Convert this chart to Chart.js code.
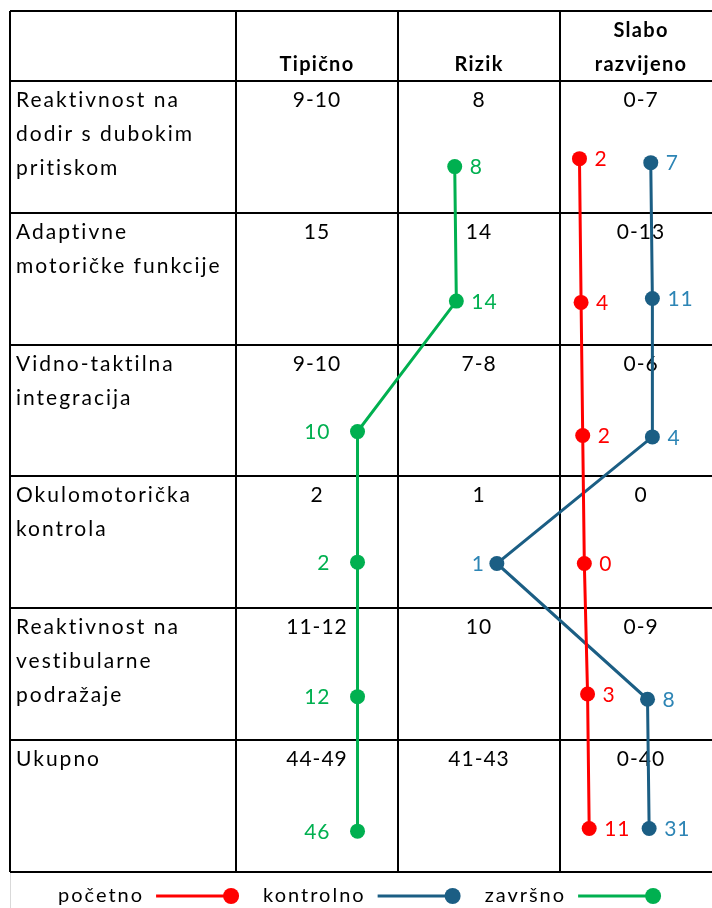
<!DOCTYPE html>
<html>
<head>
<meta charset="utf-8">
<script src="https://cdn.jsdelivr.net/npm/chart.js@4.4.1/dist/chart.umd.min.js"></script>
<style>
  html, body { margin: 0; padding: 0; background: #fff; }
  #wrap { width: 712px; height: 908px; }
</style>
</head>
<body>
<div id="wrap"><canvas id="grafico"></canvas></div>
<script>
// ==================== tablica ====================
const categories = [
  ["Reaktivnost na", "dodir s dubokim", "pritiskom"],
  ["Adaptivne", "motoričke funkcije"],
  ["Vidno-taktilna", "integracija"],
  ["Okulomotorička", "kontrola"],
  ["Reaktivnost na", "vestibularne", "podražaje"],
  ["Ukupno"],
];
const headers = [["Tipično"], ["Rizik"], ["Slabo", "razvijeno"]];
const normTipicno = ["9-10", "15", "9-10", "2", "11-12", "44-49"];
const normRizik = ["8", "14", "7-8", "1", "10", "41-43"];
const normSlabo = ["0-7", "0-13", "0-6", "0", "0-9", "0-40"];

// ==================== rezultati ====================
const pocetno = [2, 4, 2, 0, 3, 11];
const kontrolno = [7, 11, 4, 1, 8, 31];
const zavrsno = [8, 14, 10, 2, 12, 46];

// where the points sit: column units (1 Tipično, 2 Rizik, 3 Slabo) and row units (0 = first row top)
const pocetnoCol = [3.12, 3.13, 3.14, 3.15, 3.17, 3.18];
const kontrolnoCol = [3.56, 3.57, 3.57, 2.61, 3.54, 3.55];
const zavrsnoCol = [2.35, 2.36, 1.75, 1.75, 1.75, 1.75];
const pocetnoRow = [0.59, 1.68, 2.69, 3.66, 4.65, 5.67];
const kontrolnoRow = [0.62, 1.65, 2.70, 3.66, 4.69, 5.67];
const zavrsnoRow = [0.65, 1.67, 2.66, 3.65, 4.67, 5.69];

const FONT = "Lato, 'Open Sans', sans-serif";

function pts(cols, rows, vals) {
  return cols.map((c, i) => ({ x: c, y: rows[i], v: vals[i] }));
}

const tablePlugin = {
  id: "tablica",
  beforeDatasetsDraw(chart) {
    const ctx = chart.ctx;
    const xs = chart.scales.x, ys = chart.scales.y;
    const left = chart.chartArea.left, top = chart.chartArea.top, bottom = chart.chartArea.bottom;
    const right = chart.width;
    ctx.save();
    ctx.strokeStyle = "#000";
    ctx.lineWidth = 2;
    // horizontal lines
    [ys.min, 0, 1, 2, 3, 4, 5, 6].forEach((r) => {
      const y = Math.round(ys.getPixelForValue(r));
      ctx.beginPath(); ctx.moveTo(left, y); ctx.lineTo(right, y); ctx.stroke();
    });
    // vertical lines
    [xs.min, 1, 2, 3].forEach((c) => {
      const x = Math.round(xs.getPixelForValue(c));
      ctx.beginPath(); ctx.moveTo(x, top); ctx.lineTo(x, bottom); ctx.stroke();
    });

    ctx.fillStyle = "#000";
    ctx.textBaseline = "alphabetic";
    // header
    ctx.font = "bold 20px " + FONT;
    ctx.letterSpacing = "1.3px";
    ctx.textAlign = "center";
    headers.forEach((h, j) => {
      const cx = xs.getPixelForValue(j + 1.5);
      const base = ys.getPixelForValue(0) - 10;
      h.forEach((line, k) => {
        ctx.fillText(line, cx, base - (h.length - 1 - k) * 34);
      });
    });
    // body
    ctx.font = "21px " + FONT;
    categories.forEach((cat, r) => {
      const y0 = ys.getPixelForValue(r) + 26;
      ctx.letterSpacing = "2px";
      ctx.textAlign = "left";
      cat.forEach((line, k) => ctx.fillText(line, left + 6, y0 + k * 34));
      ctx.letterSpacing = "1px";
      ctx.textAlign = "center";
      [normTipicno, normRizik, normSlabo].forEach((col, j) => {
        ctx.fillText(col[r], xs.getPixelForValue(j + 1.5), y0);
      });
    });
    ctx.restore();
  },
  afterDatasetsDraw(chart) {
    const ctx = chart.ctx;
    ctx.save();
    ctx.font = "21px " + FONT;
    ctx.letterSpacing = "1px";
    ctx.textBaseline = "middle";
    chart.data.datasets.forEach((ds, i) => {
      const meta = chart.getDatasetMeta(i);
      meta.data.forEach((p, k) => {
        const left = ds.labelLeft && ds.labelLeft[k];
        ctx.fillStyle = ds.labelColor;
        ctx.textAlign = left ? "right" : "left";
        ctx.fillText(String(ds.data[k].v), left ? p.x - ds.labelGapLeft : p.x + 15, p.y + 1);
      });
    });
    ctx.restore();
  },
  afterDraw(chart) {
    const ctx = chart.ctx;
    const y = 896;
    ctx.save();
    ctx.strokeStyle = "#d9d9d9";
    ctx.lineWidth = 1;
    ctx.beginPath(); ctx.moveTo(10.5, chart.chartArea.bottom + 1); ctx.lineTo(10.5, chart.height); ctx.stroke();
    ctx.font = "20px " + FONT;
    ctx.letterSpacing = "2px";
    ctx.textBaseline = "middle";
    ctx.textAlign = "left";
    let x = 58;
    chart.data.datasets.forEach((ds) => {
      ctx.fillStyle = "#000";
      ctx.fillText(ds.label, x, y);
      x += ctx.measureText(ds.label).width + 12;
      ctx.strokeStyle = ds.borderColor;
      ctx.lineWidth = 3;
      ctx.beginPath(); ctx.moveTo(x, y); ctx.lineTo(x + 75, y); ctx.stroke();
      ctx.fillStyle = ds.borderColor;
      ctx.beginPath(); ctx.arc(x + 75, y, 8, 0, Math.PI * 2); ctx.fill();
      x += 75 + 8 + 24;
    });
    ctx.restore();
  },
};

const configTablica = {
  type: "scatter",
  data: {
    datasets: [
      {
        label: "početno",
        data: pts(pocetnoCol, pocetnoRow, pocetno),
        borderColor: "#ff0000",
        backgroundColor: "#ff0000",
        labelColor: "#ff0000",
      },
      {
        label: "kontrolno",
        data: pts(kontrolnoCol, kontrolnoRow, kontrolno),
        borderColor: "#1b5e84",
        backgroundColor: "#1b5e84",
        labelColor: "#2d85b5",
        labelLeft: [false, false, false, true, false, false],
        labelGapLeft: 12,
      },
      {
        label: "završno",
        data: pts(zavrsnoCol, zavrsnoRow, zavrsno),
        borderColor: "#00b050",
        backgroundColor: "#00b050",
        labelColor: "#00b050",
        labelLeft: [false, false, true, true, true, true],
        labelGapLeft: 27,
      },
    ],
  },
  options: {
    responsive: true,
    maintainAspectRatio: false,
    animation: false,
    showLine: true,
    elements: {
      line: { borderWidth: 3, tension: 0 },
      point: { radius: 7.5, borderWidth: 0, hoverRadius: 7.5 },
    },
    layout: { autoPadding: false, padding: { left: 10, top: 11, right: 0, bottom: 36 } },
    scales: {
      x: { type: "linear", display: false, min: -0.395, max: 3.938 },
      y: { type: "linear", display: false, reverse: true, min: -0.53, max: 6 },
    },
    plugins: {
      legend: { display: false },
      tooltip: { enabled: false },
    },
  },
  plugins: [tablePlugin],
};

const grafico = new Chart(document.getElementById("grafico"), configTablica);
</script>
</body>
</html>
